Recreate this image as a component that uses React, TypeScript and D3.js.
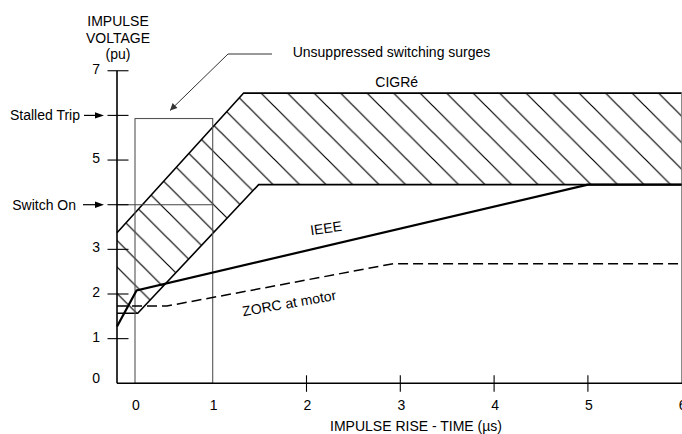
import React from "react";
import * as d3 from "d3";

const xTickValues = [0, 1, 2, 3, 4, 5, 6];
const xCrossTicks = [2, 3, 4, 5];
const yTickValues = [0, 1, 2, 3, 5, 7];
const yTickMarks = [1, 2, 3, 4, 5, 6, 7];
const X_MIN = -0.23;

const cigreUpper: [number, number][] = [[X_MIN, 3.37], [1.33, 6.5], [6, 6.5]];
const cigreLower: [number, number][] = [[X_MIN, 1.57], [0.035, 1.57], [1.49, 4.45], [6, 4.45]];
const ieee: [number, number][] = [[X_MIN, 1.27], [0.02, 2.08], [5, 4.45], [6, 4.45]];
const zorc: [number, number][] = [[X_MIN, 1.73], [0.41, 1.73], [2.93, 2.68], [6, 2.68]];
const surgeBox = { x0: 0, x1: 1, y0: 0, y1: 5.93 };
const switchOnLevel = 4;
const stalledTripLevel = 6;

const FONT = "'Liberation Sans', Arial, sans-serif";

export default function App() {
  const x = d3.scaleLinear().domain([X_MIN, 0, 1, 6]).range([117, 135, 212.7, 681.7]);
  const y = d3.scaleLinear().domain([0, 7]).range([383.3, 70.75]);
  const line = d3.line<[number, number]>().x((d) => x(d[0])).y((d) => y(d[1]));

  const band: [number, number][] = [...cigreUpper, ...[...cigreLower].reverse()];
  const bandPath = line(band) + "Z";
  const W = 26.5;

  const arrowTip = (tx: number, ty: number) =>
    `M${tx},${ty} L${tx - 9},${ty - 3.2} L${tx - 9},${ty + 3.2} Z`;

  return (
    <svg
      width={682}
      height={434}
      style={{ position: "absolute", left: 0, top: 0, background: "#fff" }}
      fontFamily={FONT}
    >
      <defs>
        <pattern id="hatch" patternUnits="userSpaceOnUse" x={9} y={0} width={W} height={W}>
          <path
            d={`M0,0 L${W},${W} M-2,${W - 2} L2,${W + 2} M${W - 2},-2 L${W + 2},2`}
            stroke="#000"
            strokeWidth={1.2}
          />
        </pattern>
        <marker id="arr" viewBox="0 0 10 10" refX={10} refY={5} markerWidth={9} markerHeight={7} orient="auto" markerUnits="userSpaceOnUse">
          <path d="M0,0 L10,5 L0,10 Z" fill="#333" />
        </marker>
      </defs>

      {/* hatched CIGRe band */}
      <path d={bandPath} fill="url(#hatch)" stroke="none" />
      <path d={line(cigreUpper)!} fill="none" stroke="#000" strokeWidth={1.6} />
      <path d={line(cigreLower)!} fill="none" stroke="#000" strokeWidth={1.6} />

      {/* unsuppressed surge box */}
      <rect
        x={x(surgeBox.x0)}
        y={y(surgeBox.y1)}
        width={x(surgeBox.x1) - x(surgeBox.x0)}
        height={y(surgeBox.y0) - y(surgeBox.y1)}
        fill="none"
        stroke="#555"
        strokeWidth={1.1}
      />
      <line x1={x(X_MIN)} x2={x(surgeBox.x1)} y1={y(switchOnLevel)} y2={y(switchOnLevel)} stroke="#444" strokeWidth={1.1} />
      {/* right border */}
      <line x1={x(6)} x2={x(6)} y1={y(6.5)} y2={y(0)} stroke="#777" strokeWidth={1.1} />

      {/* ZORC */}
      <path d={line(zorc)!} fill="none" stroke="#000" strokeWidth={1.5} strokeDasharray="10,5" />
      {/* IEEE */}
      <path d={line(ieee)!} fill="none" stroke="#000" strokeWidth={2.2} />

      {/* axes */}
      <line x1={x(X_MIN)} x2={x(X_MIN)} y1={y(7)} y2={y(0)} stroke="#000" strokeWidth={1.6} />
      <line x1={x(X_MIN)} x2={682} y1={y(0)} y2={y(0)} stroke="#000" strokeWidth={1.6} />
      {yTickMarks.map((v) => (
        <line key={"yt" + v} x1={x(X_MIN) - 9.5} x2={x(X_MIN) + 11.5} y1={y(v)} y2={y(v)} stroke="#000" strokeWidth={1.1} />
      ))}
      {yTickValues.map((v) => (
        <text key={"yl" + v} x={100} y={v === 0 ? y(v) : y(v) + 3} textAnchor="end" fontSize={14}>
          {v}
        </text>
      ))}
      {xCrossTicks.map((v) => (
        <line key={"xt" + v} x1={x(v)} x2={x(v)} y1={y(0) - 8} y2={y(0) + 8.5} stroke="#000" strokeWidth={1.1} />
      ))}
      {xTickValues.map((v) => (
        <text key={"xl" + v} x={x(v) + 1} y={410} textAnchor="middle" fontSize={14}>
          {v}
        </text>
      ))}

      {/* Stalled trip / switch on */}
      <text x={80} y={y(stalledTripLevel) + 5} textAnchor="end" fontSize={14}>Stalled Trip</text>
      <line x1={84} x2={97} y1={y(stalledTripLevel)} y2={y(stalledTripLevel)} stroke="#000" strokeWidth={1.2} />
      <path d={arrowTip(104, y(stalledTripLevel))} fill="#000" />
      <text x={76} y={y(switchOnLevel) + 5} textAnchor="end" fontSize={14}>Switch On</text>
      <line x1={83} x2={97} y1={y(switchOnLevel)} y2={y(switchOnLevel)} stroke="#000" strokeWidth={1.2} />
      <path d={arrowTip(104, y(switchOnLevel))} fill="#000" />

      {/* titles */}
      <text x={118} textAnchor="middle" fontSize={14}>
        <tspan x={118} y={26}>IMPULSE</tspan>
        <tspan x={118} y={43}>VOLTAGE</tspan>
        <tspan x={118} y={59}>(pu)</tspan>
      </text>
      <text x={416} y={431} textAnchor="middle" fontSize={14}>IMPULSE RISE - TIME (µs)</text>

      {/* annotations */}
      <text x={292.7} y={57} fontSize={14}>Unsuppressed switching surges</text>
      <polyline points="272,54 228,54 170,110.5" fill="none" stroke="#333" strokeWidth={1} markerEnd="url(#arr)" />
      <text x={396.7} y={87} textAnchor="middle" fontSize={14}>CIGRé</text>
      <text x={0} y={0} textAnchor="middle" fontSize={14} transform="translate(326.7,233) rotate(-8)">IEEE</text>
      <text x={0} y={0} textAnchor="middle" fontSize={14} transform="translate(290,308) rotate(-10)">ZORC at motor</text>
    </svg>
  );
}
